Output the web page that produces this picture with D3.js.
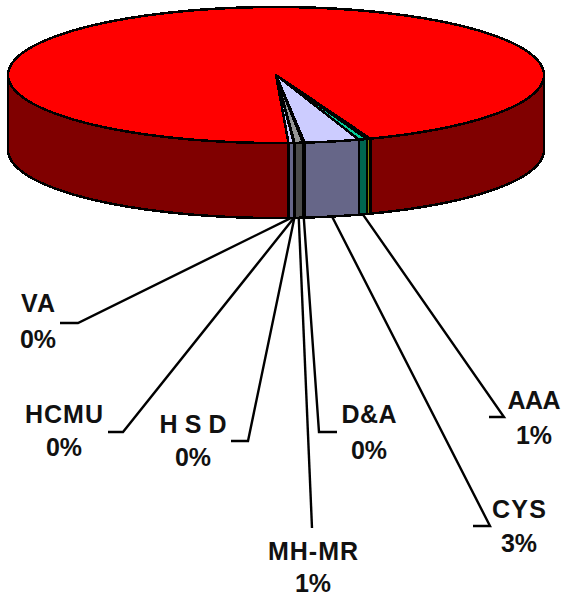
<!DOCTYPE html>
<html>
<head>
<meta charset="utf-8">
<script src="https://cdn.jsdelivr.net/npm/d3@7"></script>
<style>
  html, body { margin: 0; padding: 0; background: #fff; }
  text { font-family: "Liberation Sans", Arial, sans-serif; font-weight: bold; fill: #111; }
</style>
</head>
<body>
<div id="chart"></div>
<script>
// slices clockwise, starting at the thin olive one on the front right
const names = ["", "AAA", "CYS", "D&A", "MH-MR", "H S D", "HCMU", "VA", ""];
const values = [0.22, 0.5, 3.3, 0.1, 0.5, 0.02, 0.02, 0.32, 95.02];
const percents = ["", "1%", "3%", "0%", "1%", "0%", "0%", "0%", ""];
const topColors = ["#ffff00", "#00cc99", "#ccccff", "#ccccff", "#969696", "#ccccff", "#ccccff", "#ccccff", "#ff0000"];
const sideColors = ["#808000", "#006650", "#666688", "#666688", "#4b4b4b", "#666688", "#666688", "#666688", "#800000"];

const width = 562, height = 596;
const cx = 276, cy = 75, rx = 268, ry = 68, depth = 75;

// label placement, by slice index
const layout = {
  1: { nx: 534, ny: 409, py: 444, w: 53, elbow: [[489, 417], [504, 417]] },
  2: { nx: 519, ny: 518, py: 552, w: 54, elbow: [[473, 526], [490, 526]] },
  3: { nx: 369, ny: 423, py: 459, w: 55, elbow: [[337, 432], [319, 432]] },
  4: { nx: 313, ny: 560, py: 592, w: 90, elbow: [[312, 528]] },
  5: { nx: 193, ny: 433, py: 466, w: 67, elbow: [[231, 441], [248, 441]] },
  6: { nx: 64, ny: 423, py: 456, w: 78, elbow: [[108, 432], [123, 432]] },
  7: { nx: 38, ny: 312, py: 348, w: 34, elbow: [[60, 323], [78, 323]] }
};

const svg = d3.select("#chart").append("svg")
  .attr("width", width)
  .attr("height", height)
  .style("display", "block");

const startAngle = 159.4 * Math.PI / 180;
const pie = d3.pie().sort(null).startAngle(startAngle).endAngle(startAngle + 2 * Math.PI);
const arcs = pie(values);

const px = a => cx + rx * Math.sin(a);
const py = a => cy - ry * Math.cos(a);
const line = d3.line();

function sample(a0, a1) {
  const n = Math.max(2, Math.ceil(Math.abs(a1 - a0) * 60));
  return d3.range(n + 1).map(i => a0 + (a1 - a0) * i / n);
}

// side wall: only the part of each slice facing the viewer (90deg to 270deg, with wrap)
function sidePieces(d) {
  const out = [];
  [0, 2 * Math.PI].forEach(off => {
    const a0 = Math.max(d.startAngle, Math.PI / 2 + off);
    const a1 = Math.min(d.endAngle, 3 * Math.PI / 2 + off);
    if (a1 > a0) out.push([a0, a1]);
  });
  return out;
}

arcs.forEach((d, i) => {
  sidePieces(d).forEach(([a0, a1]) => {
    const upper = sample(a0, a1).map(a => [px(a), py(a)]);
    const lower = sample(a1, a0).map(a => [px(a), py(a) + depth]);
    svg.append("path")
      .attr("d", line(upper.concat(lower)) + "Z")
      .attr("fill", sideColors[i])
      .attr("stroke", "#000")
      .attr("stroke-width", 2.5)
      .attr("stroke-linejoin", "round")
      .attr("shape-rendering", "crispEdges");
  });
});

// top faces, big slice first so the thin ones sit on it
arcs.slice().reverse().forEach((d, r) => {
  const i = arcs.length - 1 - r;
  const rim = sample(d.startAngle, d.endAngle).map(a => [px(a), py(a)]);
  svg.append("path")
    .attr("d", line([[cx, cy]].concat(rim)) + "Z")
    .attr("fill", topColors[i])
    .attr("stroke", "#000")
    .attr("stroke-width", 2.5)
    .attr("stroke-linejoin", "round")
    .attr("shape-rendering", "crispEdges");
});

// leader lines and labels
arcs.forEach((d, i) => {
  const l = layout[i];
  if (!l) return;
  const mid = (d.startAngle + d.endAngle) / 2;
  const far = l.elbow[l.elbow.length - 1];
  const isDA = i === 3;
  const pts = isDA
    ? [[px(mid), py(mid) + depth], l.elbow[1], l.elbow[0]]
    : [[px(mid), py(mid) + depth], far].concat(l.elbow.slice(0, -1).reverse());
  svg.append("path")
    .attr("d", line(pts))
    .attr("fill", "none")
    .attr("stroke", "#000")
    .attr("stroke-width", 2.4);

  svg.append("text")
    .attr("x", l.nx).attr("y", l.ny)
    .attr("text-anchor", "middle")
    .attr("font-size", 25)
    .attr("textLength", l.w)
    .attr("lengthAdjust", "spacing")
    .text(names[i]);
  svg.append("text")
    .attr("x", l.nx).attr("y", l.py)
    .attr("text-anchor", "middle")
    .attr("font-size", 25)
    .text(percents[i]);
});
</script>
</body>
</html>
